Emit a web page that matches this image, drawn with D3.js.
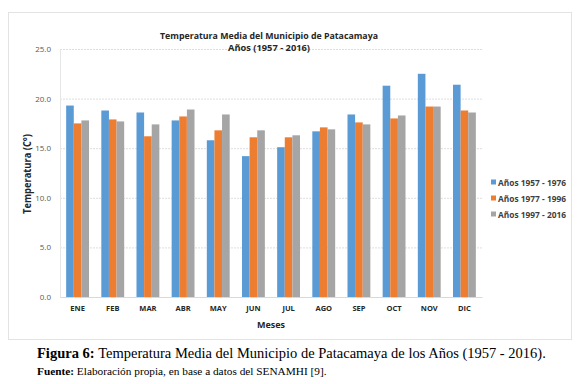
<!DOCTYPE html>
<html lang="es">
<head>
    <meta charset="UTF-8">
    <title>Temperatura Media Patacamaya</title>
    <script src="https://d3js.org/d3.v7.min.js"></script>
    <style>
        body { margin: 0; background: #fff; }
        svg { display: block; }
    </style>
</head>
<body>
    <div id="chart"></div>
    <script>
        // Data
        const months = ["ENE", "FEB", "MAR", "ABR", "MAY", "JUN", "JUL", "AGO", "SEP", "OCT", "NOV", "DIC"];
        const seriesNames = ["Años 1957 - 1976", "Años 1977 - 1996", "Años 1997 - 2016"];
        const p1957 = [19.3, 18.8, 18.6, 17.8, 15.8, 14.2, 15.1, 16.7, 18.4, 21.3, 22.5, 21.4];
        const p1977 = [17.5, 17.9, 16.2, 18.2, 16.8, 16.1, 16.1, 17.1, 17.6, 18.0, 19.2, 18.8];
        const p1997 = [17.8, 17.7, 17.4, 18.9, 18.4, 16.8, 16.3, 16.9, 17.4, 18.3, 19.2, 18.6];
        const yTicks = [0, 5, 10, 15, 20, 25];
        const colors = ["#5b9bd5", "#ed7d31", "#a5a5a5"];

        const series = [p1957, p1977, p1997];
        const W = 585, H = 384;
        const plot = {left: 60, right: 482, top: 49, bottom: 297};

        const svg = d3.select("#chart").append("svg")
            .attr("width", W).attr("height", H);

        // chart frame
        svg.append("rect")
            .attr("x", 8.5).attr("y", 12.5)
            .attr("width", 563).attr("height", 327)
            .attr("fill", "#fff").attr("stroke", "#e3e3e3");

        const x = d3.scaleBand()
            .domain(months)
            .range([plot.left, plot.right])
            .paddingInner(0.35).paddingOuter(0.175);
        const xs = d3.scaleBand()
            .domain(d3.range(series.length))
            .range([0, x.bandwidth()]);
        const y = d3.scaleLinear()
            .domain([0, 25])
            .range([plot.bottom, plot.top]);

        // gridlines
        svg.append("g")
            .selectAll("line")
            .data(yTicks.filter(d => d > 0))
            .join("line")
            .attr("x1", plot.left).attr("x2", plot.right)
            .attr("y1", d => y(d) + 0.5).attr("y2", d => y(d) + 0.5)
            .attr("stroke", "#dedede")
            .attr("stroke-dasharray", "2,1");

        // y axis
        const yAxis = svg.append("g")
            .attr("transform", `translate(${plot.left},0)`)
            .call(d3.axisLeft(y).tickValues(yTicks).tickFormat(d3.format(".1f")).tickSize(0).tickPadding(9));
        yAxis.select(".domain").attr("stroke", "#e6e6e6");
        yAxis.selectAll("text")
            .attr("fill", "#595959")
            .style("font-family", "'Open Sans', sans-serif")
            .style("font-size", "8px");

        // bars
        const groups = svg.append("g")
            .selectAll("g")
            .data(months)
            .join("g")
            .attr("transform", d => `translate(${x(d)},0)`);
        groups.selectAll("rect")
            .data((m, i) => series.map((s, k) => ({k: k, v: s[i]})))
            .join("rect")
            .attr("x", d => xs(d.k))
            .attr("width", xs.bandwidth())
            .attr("y", d => y(d.v))
            .attr("height", d => y(0) - y(d.v))
            .attr("fill", d => colors[d.k]);

        // x axis
        const xAxis = svg.append("g")
            .attr("transform", `translate(0,${plot.bottom})`)
            .call(d3.axisBottom(x).tickSize(0).tickPadding(9));
        xAxis.select(".domain").attr("stroke", "#d9d9d9");
        xAxis.selectAll("text")
            .attr("fill", "#262626")
            .style("font-family", "'Open Sans', sans-serif")
            .style("font-weight", "bold")
            .style("font-size", "7.5px");

        // titles
        const titleFont = "'Open Sans', sans-serif";
        svg.append("text")
            .attr("x", 269).attr("y", 39)
            .attr("text-anchor", "middle")
            .attr("textLength", 218).attr("lengthAdjust", "spacingAndGlyphs")
            .style("font-family", titleFont).style("font-weight", "bold")
            .style("font-size", "9px").attr("fill", "#262626")
            .text("Temperatura Media del Municipio de Patacamaya");
        svg.append("text")
            .attr("x", 269).attr("y", 50.5)
            .attr("text-anchor", "middle")
            .attr("textLength", 82).attr("lengthAdjust", "spacingAndGlyphs")
            .style("font-family", titleFont).style("font-weight", "bold")
            .style("font-size", "9px").attr("fill", "#262626")
            .text("Años (1957 - 2016)");

        svg.append("text")
            .attr("transform", "rotate(-90)")
            .attr("x", -174).attr("y", 31)
            .attr("text-anchor", "middle")
            .attr("textLength", 80).attr("lengthAdjust", "spacingAndGlyphs")
            .style("font-family", titleFont).style("font-weight", "bold")
            .style("font-size", "10px").attr("fill", "#262626")
            .text("Temperatura (C°)");

        svg.append("text")
            .attr("x", (plot.left + plot.right) / 2).attr("y", 328)
            .attr("text-anchor", "middle")
            .style("font-family", titleFont).style("font-weight", "bold")
            .style("font-size", "9px").attr("fill", "#262626")
            .text("Meses");

        // legend
        const legend = svg.append("g")
            .selectAll("g")
            .data(seriesNames)
            .join("g")
            .attr("transform", (d, i) => `translate(491,${183 + i * 16})`);
        legend.append("rect")
            .attr("x", 0).attr("y", -3.5)
            .attr("width", 5).attr("height", 5)
            .attr("fill", (d, i) => colors[i]);
        legend.append("text")
            .attr("x", 7).attr("y", 3)
            .attr("textLength", 68).attr("lengthAdjust", "spacingAndGlyphs")
            .style("font-family", titleFont).style("font-weight", "bold")
            .style("font-size", "8.5px").attr("fill", "#404040")
            .text(d => d);

        // caption
        const cap = svg.append("text")
            .attr("x", 37).attr("y", 358)
            .style("font-family", "'Liberation Serif', 'Times New Roman', serif")
            .style("font-size", "14.5px").attr("fill", "#000");
        cap.append("tspan").style("font-weight", "bold").text("Figura 6: ");
        cap.append("tspan").text("Temperatura Media del Municipio de Patacamaya de los Años (1957 - 2016).");

        const src = svg.append("text")
            .attr("x", 37).attr("y", 375)
            .style("font-family", "'Liberation Serif', 'Times New Roman', serif")
            .style("font-size", "11.3px").attr("fill", "#000");
        src.append("tspan").style("font-weight", "bold").text("Fuente: ");
        src.append("tspan").text("Elaboración propia, en base a datos del SENAMHI [9].");
    </script>
</body>
</html>
